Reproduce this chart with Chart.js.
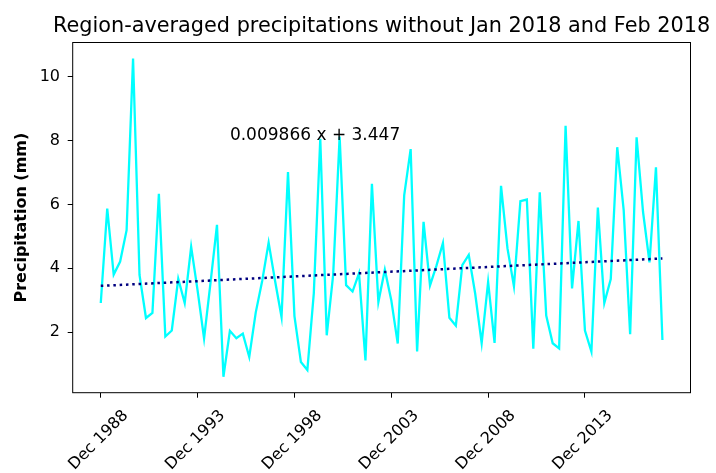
<!DOCTYPE html>
<html>
<head>
<meta charset="utf-8">
<script src="https://cdn.jsdelivr.net/npm/chart.js@4.4.1/dist/chart.umd.min.js"></script>
<style>
  html, body { margin: 0; padding: 0; background: #fff; }
  canvas { display: block; }
</style>
</head>
<body>
<canvas id="chart-precip" width="716" height="473"></canvas>
<script>
// 冬季（12・1・2月）の領域平均降水量 Dec 1988 〜 Dec 2017
const precipitation = [
  2.91, 5.87, 3.80, 4.21, 5.19, 10.57, 3.79, 2.44, 2.60, 6.33,
  1.86, 2.05, 3.67, 2.91, 4.67, 3.30, 1.80, 3.55, 5.36, 0.60,
  2.04, 1.81, 1.95, 1.22, 2.61, 3.60, 4.80, 3.60, 2.47, 7.01,
  2.50, 1.06, 0.81, 3.22, 8.05, 1.90, 3.80, 8.12, 3.47, 3.27,
  3.84, 1.11, 6.64, 2.94, 3.95, 3.00, 1.64, 6.28, 7.73, 1.39,
  5.45, 3.46, 4.08, 4.79, 2.45, 2.20, 4.10, 4.42, 3.20, 1.65,
  3.57, 1.66, 6.58, 4.62, 3.43, 6.10, 6.15, 1.48, 6.38, 2.52,
  1.65, 1.49, 8.46, 3.37, 5.48, 2.05, 1.39, 5.90, 2.91, 3.66,
  7.79, 5.82, 1.93, 8.10, 5.76, 4.18, 7.16, 1.75
];
const tickPositions = [0, 15, 30, 45, 60, 75];
const tickLabels = ["Dec 1988", "Dec 1993", "Dec 1998", "Dec 2003", "Dec 2008", "Dec 2013"];
const yTickValues = [2, 4, 6, 8, 10];
const trendSlope = 0.009866;
const trendIntercept = 3.447;
const chartTitle = "Region-averaged precipitations without Jan 2018 and Feb 2018";
const yAxisTitle = "Precipitation (mm)";
const trendText = "0.009866 x + 3.447";

const FONT = "'DejaVu Sans', sans-serif";
const n = precipitation.length;
const yLo = Math.min(...precipitation);
const yHi = Math.max(...precipitation);
const yPad = (yHi - yLo) * 0.05;

// タイトル・回帰式・枠線を描くプラグイン
const extras = {
  id: "extras",
  afterDatasetsDraw(chart) {
    const { ctx, chartArea, scales } = chart;
    ctx.save();
    ctx.strokeStyle = "#000";
    ctx.lineWidth = 1;
    ctx.strokeRect(chartArea.left, chartArea.top, chartArea.right - chartArea.left, chartArea.bottom - chartArea.top);

    ctx.fillStyle = "#000";
    ctx.textBaseline = "alphabetic";
    ctx.font = "17px " + FONT;
    ctx.textAlign = "left";
    ctx.fillText(trendText, scales.x.getPixelForValue(20), scales.y.getPixelForValue(8));

    ctx.font = "20.8px " + FONT;
    ctx.textAlign = "center";
    ctx.fillText(chartTitle, (chartArea.left + chartArea.right) / 2, 32);
    ctx.restore();
  },
};

const tickGrid = { drawOnChartArea: false, drawTicks: true, tickLength: 5, color: "#000" };

new Chart(document.getElementById("chart-precip"), {
  type: "line",
  data: {
    datasets: [
      {
        data: [0, n - 1].map((i) => ({ x: i, y: trendIntercept + trendSlope * i })),
        borderColor: "#00007f",
        borderWidth: 2.5,
        borderDash: [2.5, 3.8],
        pointRadius: 0,
        order: 0,
      },
      {
        data: precipitation.map((v, i) => ({ x: i, y: v })),
        borderColor: "#00ffff",
        borderWidth: 2.3,
        pointRadius: 0,
        tension: 0,
        order: 1,
      },
    ],
  },
  options: {
    responsive: false,
    animation: false,
    devicePixelRatio: 1,
    layout: { padding: { top: 42.5, right: 25.5, left: 0, bottom: 0 } },
    plugins: { legend: { display: false }, tooltip: { enabled: false }, title: { display: false } },
    scales: {
      x: {
        type: "linear",
        min: -0.05 * (n - 1),
        max: (n - 1) * 1.05,
        afterBuildTicks: (s) => { s.ticks = tickPositions.map((v) => ({ value: v })); },
        afterFit: (s) => { s.height = 80.3; },
        grid: tickGrid,
        border: { display: false },
        ticks: {
          callback: (v, i) => tickLabels[i],
          autoSkip: false,
          minRotation: 45,
          maxRotation: 45,
          labelOffset: 25,
          padding: 8.5,
          color: "#000",
          font: { family: FONT, size: 16 },
        },
      },
      y: {
        min: yLo - yPad,
        max: yHi + yPad,
        afterBuildTicks: (s) => { s.ticks = yTickValues.map((v) => ({ value: v })); },
        afterFit: (s) => { s.width = 72.7; },
        grid: tickGrid,
        border: { display: false },
        ticks: { padding: 7.7, color: "#000", font: { family: FONT, size: 16 } },
        title: {
          display: true,
          text: yAxisTitle,
          color: "#000",
          padding: { top: 12.5, bottom: 0 },
          font: { family: FONT, size: 16, weight: "bold" },
        },
      },
    },
  },
  plugins: [extras],
});
</script>
</body>
</html>
